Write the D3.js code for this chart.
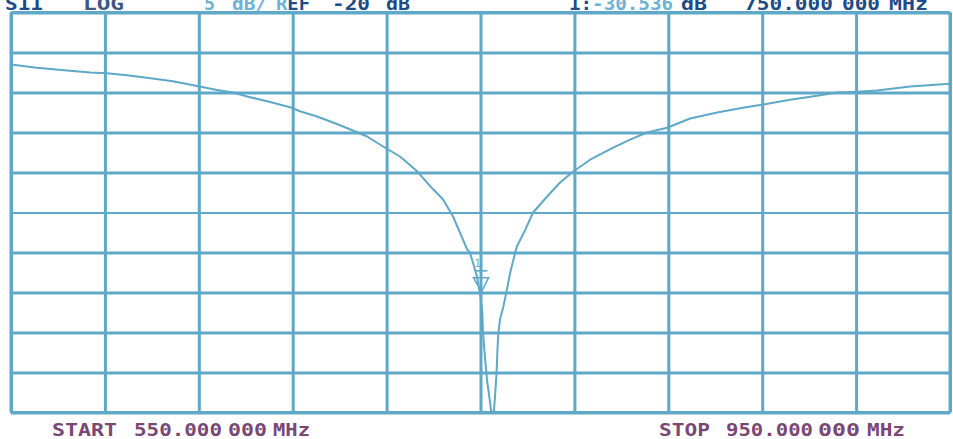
<!DOCTYPE html>
<html><head><meta charset="utf-8">
<script src="https://cdn.jsdelivr.net/npm/d3@7"></script>
<style>html,body{margin:0;padding:0;background:#fff;overflow:hidden}</style>
</head><body>
<svg id="c" width="953" height="439"></svg>
<script>
// ---- data ----
const freqMHz = [550.0, 561.0, 573.9, 583.7, 590.9, 599.4, 606.2, 619.0, 629.3, 637.8, 644.6, 650.6, 659.1, 668.9,
  673.1, 680.4, 687.2, 694.4, 701.7, 708.5, 715.7, 723.0, 729.8, 734.0, 738.3, 744.3, 745.5, 748.5, 750.0, 750.8,
  751.0, 751.9, 752.8, 754.1, 755.0, 755.4, 756.2, 756.9, 757.2, 757.6, 758.3, 759.7, 761.2, 762.6, 764.7, 765.5,
  769.0, 772.4, 778.4, 783.9, 789.4, 796.7, 806.5, 813.7, 821.0, 829.5, 839.3, 850.8, 861.8, 870.4, 881.9, 893.4,
  901.9, 910.4, 918.9, 933.0, 950.0];
const s11dB = [-1.5, -1.9, -2.25, -2.5, -2.6, -2.85, -3.1, -3.6, -4.2, -4.7, -5.0, -5.5, -6.1, -6.85,
  -7.35, -8.0, -8.75, -9.6, -10.5, -11.75, -13.0, -14.85, -17.1, -18.35, -20.5, -24.6, -25.0, -28.0, -30.536, -32.6,
  -34.7, -38.1, -41.0, -43.8, -46.0, -46.0, -43.0, -39.7, -37.2, -35.1, -33.4, -31.8, -29.7, -27.6, -25.1, -24.25,
  -22.2, -20.0, -18.0, -16.25, -14.9, -13.4, -11.9, -10.9, -10.0, -9.4, -8.25, -7.5, -6.9, -6.5, -5.9, -5.4,
  -5.0, -4.9, -4.75, -4.25, -3.9];
const startMHz = 550, stopMHz = 950;
const refDb = -20, dbPerDiv = 5, divisions = 10;
const markerMHz = 750, markerDb = -30.536;
const paramLabel = "S11", formatLabel = "LOG";

// ---- colours ----
const gridColor = "#5fa8c8", lightText = "#6cb2d6", darkText = "#1d4b85", greyText = "#3d5782", purple = "#7b4774";

const svg = d3.select("#c");
const x = d3.scaleLinear().domain([startMHz, stopMHz]).range([11, 950]);
const y = d3.scaleLinear()
  .domain([refDb - dbPerDiv * divisions / 2, refDb + dbPerDiv * divisions / 2])
  .range([412.5, 12.5]);

const fTicks = d3.range(divisions + 1).map(i => startMHz + i * (stopMHz - startMHz) / divisions);
const dTicks = d3.range(divisions + 1).map(i => y.domain()[0] + i * dbPerDiv);

// vertical grid
const gx = svg.append("g").attr("transform", `translate(0,${y.range()[0]})`)
  .call(d3.axisBottom(x).tickValues(fTicks).tickSize(-(y.range()[0] - y.range()[1])).tickFormat(""));
gx.select(".domain").remove();
gx.selectAll(".tick line").attr("stroke", gridColor).attr("stroke-width", 3);

// horizontal grid
const gy = svg.append("g").attr("transform", `translate(${x.range()[0]},0)`)
  .call(d3.axisLeft(y).tickValues(dTicks).tickSize(-(x.range()[1] - x.range()[0])).tickFormat(""));
gy.select(".domain").remove();
gy.selectAll(".tick line").attr("stroke", gridColor)
  .attr("stroke-width", d => d === refDb ? 2 : 3);

// frame
svg.append("rect")
  .attr("x", x.range()[0]).attr("y", y.range()[1])
  .attr("width", x.range()[1] - x.range()[0]).attr("height", y.range()[0] - y.range()[1])
  .attr("rx", 2).attr("fill", "none").attr("stroke", gridColor).attr("stroke-width", 3);

// clip
svg.append("clipPath").attr("id", "plot").append("rect")
  .attr("x", x.range()[0]).attr("y", y.range()[1])
  .attr("width", x.range()[1] - x.range()[0]).attr("height", y.range()[0] - y.range()[1]);

const pts = freqMHz.map((f, i) => [f, s11dB[i]]);
svg.append("path").datum(pts)
  .attr("clip-path", "url(#plot)")
  .attr("fill", "none").attr("stroke", gridColor).attr("stroke-width", 2)
  .attr("stroke-linejoin", "round")
  .attr("d", d3.line().x(d => x(d[0])).y(d => y(d[1])));

// marker
const mx = x(markerMHz), my = y(markerDb);
const mk = svg.append("g").attr("stroke", gridColor).attr("fill", "none").attr("stroke-width", 1.6);
mk.append("path").attr("d", `M${mx - 7},${my - 19}L${mx + 8},${my - 19}L${mx + 1},${my - 5}Z`);
mk.append("line").attr("x1", mx - 6).attr("x2", mx + 7).attr("y1", my - 26).attr("y2", my - 26);
svg.append("text").attr("x", mx - 6).attr("y", my - 30).attr("font-family", "DejaVu Sans Mono")
  .attr("font-size", 10).attr("fill", gridColor).text("1");

// text
const fmtF = v => {
  const s = v.toFixed(6);
  const [a, b] = s.split(".");
  return [a + "." + b.slice(0, 3), b.slice(3)];
};
const mf = fmtF(markerMHz), sf = fmtF(startMHz), ef = fmtF(stopMHz);
// each label: list of [text, colour] runs, x, baseline, total width
const labels = [
  [[[paramLabel, darkText]], 5, 9.5, 38],
  [[[formatLabel, greyText]], 83, 9.5, 41],
  [[[String(dbPerDiv), lightText]], 204, 9.5, 11],
  [[["dB/", lightText]], 232, 9.5, 35],
  [[["R", lightText], ["EF", darkText]], 276, 9.5, 34],
  [[[String(refDb), darkText]], 332, 9.5, 38],
  [[["dB", darkText]], 386, 9.5, 24],
  [[["1:", darkText], [markerDb.toFixed(3), lightText]], 569, 9.5, 104],
  [[["dB", darkText]], 681, 9.5, 26],
  [[[mf[0], darkText]], 744, 9.5, 89],
  [[[mf[1], darkText]], 842, 9.5, 38],
  [[["MHz", darkText]], 889, 9.5, 39],
  [[["START", purple]], 52, 436, 65],
  [[[sf[0], purple]], 134, 436, 88],
  [[[sf[1], purple]], 228, 436, 39],
  [[["MHz", purple]], 273, 436, 37],
  [[["STOP", purple]], 659, 436, 51],
  [[[ef[0], purple]], 726, 436, 87],
  [[[ef[1], purple]], 818, 436, 42],
  [[["MHz", purple]], 867, 436, 38]
];
const t = svg.append("g").selectAll("text").data(labels).join("text")
  .attr("x", d => d[1]).attr("y", d => d[2])
  .attr("textLength", d => d[3]).attr("lengthAdjust", "spacingAndGlyphs")
  .attr("font-family", "DejaVu Sans Mono").attr("font-weight", "bold").attr("font-size", 18);
t.selectAll("tspan").data(d => d[0]).join("tspan")
  .attr("fill", r => r[1]).text(r => r[0]);
</script>
</body></html>
